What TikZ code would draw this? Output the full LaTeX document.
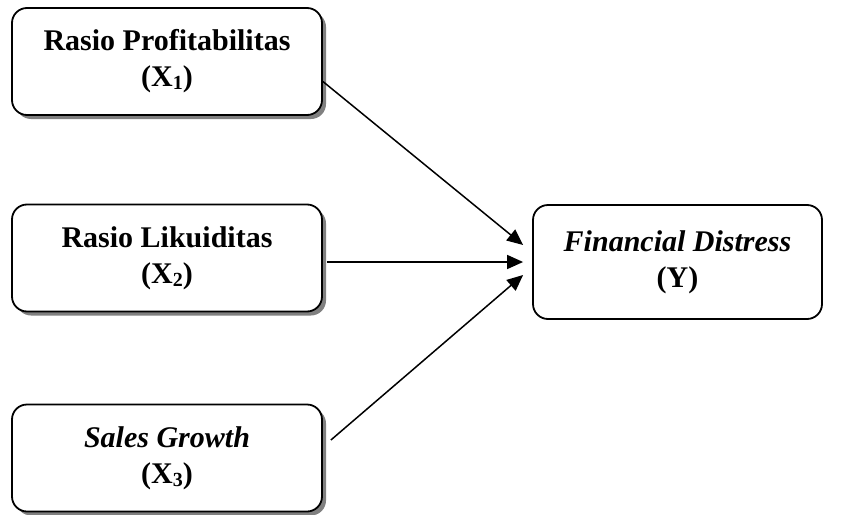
\documentclass[tikz,border=0pt]{standalone}
\usepackage{fontspec}
\setmainfont{Liberation Serif}
\usetikzlibrary{arrows.meta,shadows,calc}
\tikzset{
  varbox/.style={draw=black, line width=1.8pt, rounded corners=15pt, fill=white,
    minimum width=310pt, minimum height=107pt, align=center,
    font=\fontsize{30}{36}\selectfont\bfseries, inner sep=0pt},
  shadowed/.style={drop shadow={shadow xshift=4pt, shadow yshift=-4pt, fill=gray, opacity=1}},
  link/.style={line width=1.5pt, -{Triangle[length=16pt,width=14pt]}}
}
\newcommand{\sbx}[1]{\raisebox{-3pt}{\fontsize{20}{20}\selectfont #1}}
\begin{document}
\begin{tikzpicture}[x=1pt,y=-1pt]
\useasboundingbox (0,0) rectangle (843,514);
\node[varbox,shadowed] (b1) at (167,61.5) {Rasio Profitabilitas\\(X\sbx{1})};
\node[varbox,shadowed] (b2) at (167,258) {Rasio Likuiditas\\(X\sbx{2})};
\node[varbox,shadowed] (b3) at (167,458) {\textit{Sales Growth}\\(X\sbx{3})};
\node[varbox,minimum width=289pt,minimum height=114pt] (y) at (677.5,262) {\textit{Financial Distress}\\(Y)};
\coordinate (s1) at ($(b1.east)+(0,20)$);
\coordinate (s2) at ($(b2.east)+(4,4)$);
\coordinate (s3) at ($(b3.east)+(8,-18)$);
\coordinate (t1) at ($(y.west)+(-9,-17)$);
\coordinate (t2) at ($(y.west)+(-9,0)$);
\coordinate (t3) at ($(y.west)+(-9,13)$);
\draw[link] (s1) -- (t1);
\draw[link] (s2) -- (t2);
\draw[link] (s3) -- (t3);
\end{tikzpicture}
\end{document}
